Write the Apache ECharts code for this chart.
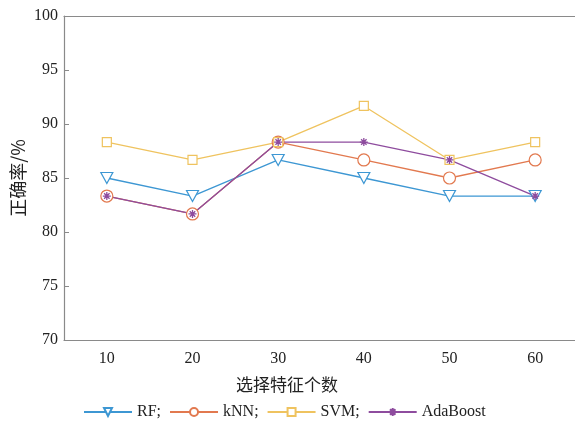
<!DOCTYPE html>
<html><head><meta charset="utf-8">
<script src="https://cdn.jsdelivr.net/npm/echarts@6/dist/echarts.min.js"></script>
<style>html,body{margin:0;padding:0;background:#fff}#c{width:575px;height:426px}</style>
</head><body><div id="c"></div>
<script>
const categories = ['10','20','30','40','50','60'];
const rf = [85, 83.33, 86.67, 85, 83.33, 83.33];
const knn = [83.33, 81.67, 88.33, 86.67, 85, 86.67];
const svm = [88.33, 86.67, 88.33, 91.67, 86.67, 88.33];
const ada = [83.33, 81.67, 88.33, 88.33, 86.67, 83.33];
const seriesNames = ['RF;', 'kNN;', 'SVM;', 'AdaBoost'];

const cRF = '#3d97d3', cKNN = '#e2794f', cSVM = '#efc35f', cADA = '#8e4c9e';
const serif = '"Liberation Serif", "Times New Roman", serif';
const cjk = '"Noto Sans CJK SC", sans-serif';
const axisCol = '#8a8a8a';

const tri = 'path://M0,0 L10,0 L5,9 Z';
const star = 'path://M5,0L5,10M0,5L10,5M1.6,1.6L8.4,8.4M8.4,1.6L1.6,8.4';

function mk(name, data, color, symbol, size, fill, bw) {
  return {
    name, type: 'line', data, symbol, symbolSize: size,
    lineStyle: { color, width: 1.3 },
    itemStyle: { color: fill, borderColor: color, borderWidth: bw },
    emphasis: { disabled: true }, animation: false
  };
}

const chart = echarts.init(document.getElementById('c'));
chart.setOption({
  animation: false,
  grid: { left: 64, right: -3, top: 16, bottom: 86, outerBoundsMode: 'none', containLabel: false },
  xAxis: [{
    type: 'category', data: categories, boundaryGap: true,
    axisLine: { lineStyle: { color: axisCol, width: 1.2 } },
    axisTick: { inside: true, alignWithLabel: true, length: 5, lineStyle: { color: axisCol } },
    axisLabel: { color: '#222', fontFamily: serif, fontSize: 16, margin: 11 },
    name: '选择特征个数', nameLocation: 'middle', nameGap: 36, nameMoveOverlap: false,
    nameTextStyle: { color: '#222', fontFamily: cjk, fontSize: 17, padding: [0, 68, 0, 0] }
  }, {
    type: 'category', data: categories, boundaryGap: true, position: 'top',
    axisLine: { lineStyle: { color: axisCol, width: 1.2 } },
    axisTick: { inside: true, alignWithLabel: true, length: 5, lineStyle: { color: axisCol } },
    axisLabel: { show: false }
  }],
  yAxis: {
    type: 'value', min: 70, max: 100, interval: 5,
    splitLine: { show: false },
    axisLine: { show: true, lineStyle: { color: axisCol, width: 1.2 } },
    axisTick: { show: true, inside: true, length: 5, lineStyle: { color: axisCol } },
    axisLabel: { color: '#222', fontFamily: serif, fontSize: 16, margin: 6 },
    name: '正确率/%', nameLocation: 'middle', nameGap: 37, nameMoveOverlap: false,
    nameTextStyle: { color: '#222', fontFamily: cjk, fontSize: 18 }
  },
  legend: {
    bottom: 1, left: 78, itemWidth: 48, itemHeight: 10, itemGap: 8,
    textStyle: { color: '#222', fontFamily: serif, fontSize: 16 },
    data: seriesNames
  },
  series: [
    mk(seriesNames[0], rf, cRF, tri, [12, 11], '#fff', 1.2),
    mk(seriesNames[1], knn, cKNN, 'circle', 12, '#fff', 1.2),
    mk(seriesNames[2], svm, cSVM, 'rect', 9, '#fff', 1.2),
    mk(seriesNames[3], ada, cADA, star, 8, 'none', 1.3)
  ]
});
</script></body></html>
